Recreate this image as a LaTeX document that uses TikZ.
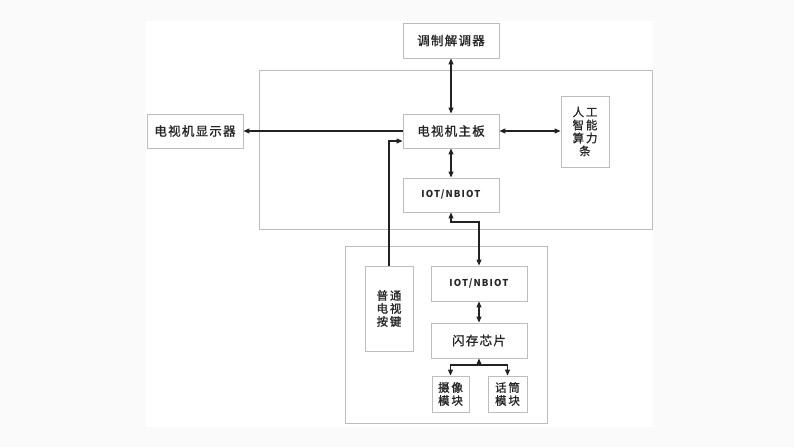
\documentclass[tikz,border=0pt]{standalone}
\usepackage{fontspec}
\setmainfont{Noto Sans CJK SC}[LetterSpace=10,FakeBold=1.2]
\newfontfamily\multif{Noto Sans CJK SC}[LetterSpace=16,FakeBold=1.2]
\newfontfamily\latinf{Noto Sans CJK SC}[LetterSpace=12]
\usetikzlibrary{arrows.meta}
\definecolor{bggray}{HTML}{FAFAFA}
\definecolor{boxgray}{HTML}{BDBDBD}
\definecolor{linec}{HTML}{222222}
\begin{document}
\begin{tikzpicture}[x=1pt,y=-1pt,
  box/.style={draw=boxgray,line width=0.9pt,inner sep=0pt,align=center,
    font=\fontsize{12.5}{12.5}\selectfont,text=black!85},
  mbox/.style={box,font=\fontsize{11.5}{13}\multif},
  frame/.style={draw=boxgray,line width=0.9pt},
  conn/.style={draw=linec,line width=1.1pt,arrows={-Triangle[length=6pt,width=5pt]}},
  biconn/.style={draw=linec,line width=1.1pt,arrows={Triangle[length=6pt,width=5pt]-Triangle[length=6pt,width=5pt]}},
  iotf/.style={font=\fontsize{9.5}{11}\latinf\bfseries}]
\useasboundingbox (0,0) rectangle (794,447);
\fill[bggray] (0,0) rectangle (794,447);
\fill[white] (146,21) rectangle (653,427);
% frames
\draw[frame] (259,70) rectangle (652,229);
\draw[frame] (345,246) rectangle (547,423);
% boxes
\node[box,minimum width=96pt,minimum height=35pt] (modem) at (451,40.5) {调制解调器};
\node[box,minimum width=96pt,minimum height=34pt] (disp) at (195,131) {电视机显示器};
\node[box,minimum width=96pt,minimum height=34pt] (main) at (451,131) {电视机主板};
\node[box,iotf,minimum width=96pt,minimum height=34pt] (iot1) at (451,195) {IOT/NBIOT};
\node[mbox,minimum width=48pt,minimum height=71pt] (ai) at (585,131.5) {人工\\智能\\算力\\条};
\node[mbox,minimum width=48pt,minimum height=85pt] (keys) at (389,308.5) {普通\\电视\\按键};
\node[box,iotf,minimum width=96pt,minimum height=35pt] (iot2) at (479,283.5) {IOT/NBIOT};
\node[box,minimum width=96pt,minimum height=35pt] (flash) at (479,340.5) {闪存芯片};
\node[mbox,minimum width=37pt,minimum height=36pt] (cam) at (450.5,394) {摄像\\模块};
\node[mbox,minimum width=39pt,minimum height=36pt] (mic) at (507.5,394) {话筒\\模块};
% connectors
\draw[biconn] (modem) -- (main);
\draw[conn] (main.west) -- (disp.east);
\draw[biconn] (main.east) -- (main.east -| ai.west);
\draw[biconn] (main) -- (iot1);
\draw[conn] (keys.north) |- ([yshift=-10pt]main.west);
\coordinate (j) at (479,222);
\draw[biconn] (iot2.north) -- (j) -| (iot1.south);
\draw[biconn] (iot2) -- (flash);
\coordinate (split) at (479,365);
\draw[conn] (split) -- (flash.south);
\draw[conn] (split) -| (cam.north);
\draw[conn] (split) -| (mic.north);
\end{tikzpicture}
\end{document}
